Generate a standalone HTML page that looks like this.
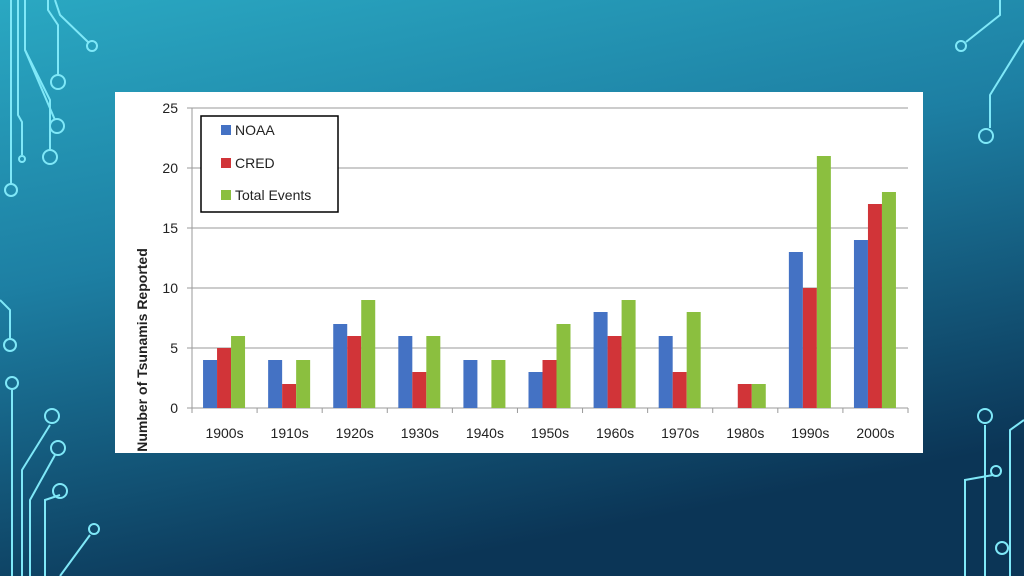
<!DOCTYPE html>
<html><head><meta charset="utf-8"><style>
body{margin:0;width:1024px;height:576px;overflow:hidden;font-family:"Liberation Sans",sans-serif}
#bg{position:absolute;left:0;top:0}
</style></head><body>
<svg id="bg" width="1024" height="576">
<defs><linearGradient id="g" x1="0" y1="0" x2="0.35" y2="1">
<stop offset="0" stop-color="#2aa8c2"/><stop offset="0.45" stop-color="#1d7fa3"/><stop offset="1" stop-color="#0b3556"/></linearGradient></defs>
<rect width="1024" height="576" fill="url(#g)"/>
<g stroke="#7fe8f8" stroke-width="2" fill="none">
<path d="M11,0V185"/><circle cx="11" cy="190" r="6"/>
<path d="M18,0V115L22,122V155"/><circle cx="22" cy="159" r="3"/>
<path d="M25,0V50L50,100V150"/><circle cx="50" cy="157" r="7"/>
<path d="M25,50L55,120"/><circle cx="57" cy="126" r="7"/>
<path d="M48,0V10L58,25V75"/><circle cx="58" cy="82" r="7"/>
<path d="M55,0L60,15L88,42"/><circle cx="92" cy="46" r="5"/>
<path d="M0,300L10,310V340"/><circle cx="10" cy="345" r="6"/>
<path d="M12,390V576"/><circle cx="12" cy="383" r="6"/>
<path d="M22,576V470L50,425"/><circle cx="52" cy="416" r="7"/>
<path d="M30,576V500L55,455"/><circle cx="58" cy="448" r="7"/>
<path d="M45,576V500L60,495"/><circle cx="60" cy="491" r="7"/>
<path d="M60,576L90,535"/><circle cx="94" cy="529" r="5"/>
<path d="M1000,0V15L966,42"/><circle cx="961" cy="46" r="5"/>
<path d="M1024,40L990,95V128"/><circle cx="986" cy="136" r="7"/>
<path d="M985,425V576"/><circle cx="985" cy="416" r="7"/>
<path d="M965,576V480L993,475"/><circle cx="996" cy="471" r="5"/>
<path d="M1010,576V430L1024,420"/><circle cx="1002" cy="548" r="6"/>
</g>
</svg>
<svg style="position:absolute;left:115px;top:92px" width="808" height="361">
<rect width="808" height="361" fill="#fff"/>
<g id="grid"></g><g id="bars"></g><g id="axes"></g>
<text transform="translate(32,258) rotate(-90)" text-anchor="middle" font-size="14" font-weight="bold" fill="#222">Number of Tsunamis Reported</text>
<g>
<rect x="86" y="24" width="137" height="96" fill="#fff" stroke="#000" stroke-width="1.5"/>
<rect x="106" y="33" width="10" height="10" fill="#4472c4"/>
<text x="120" y="43" font-size="14" fill="#222">NOAA</text>
<rect x="106" y="66" width="10" height="10" fill="#d13438"/>
<text x="120" y="76" font-size="14" fill="#222">CRED</text>
<rect x="106" y="98" width="10" height="10" fill="#8bbf3f"/>
<text x="120" y="108" font-size="14" fill="#222">Total Events</text>
</g>
</svg>
<script>
const categories=["1900s","1910s","1920s","1930s","1940s","1950s","1960s","1970s","1980s","1990s","2000s"];
const noaa=[4,4,7,6,4,3,8,6,0,13,14];
const cred=[5,2,6,3,0,4,6,3,2,10,17];
const total=[6,4,9,6,4,7,9,8,2,21,18];
const yTicks=[0,5,10,15,20,25];
const NS="http://www.w3.org/2000/svg";
const x0=77,x1=793,yb=316,yt=16,yMax=25;
const cw=(x1-x0)/categories.length;
const y=v=>yb-(v/yMax)*(yb-yt);
const xc=i=>x0+cw*(i+0.5);
function mk(t,a,p){const e=document.createElementNS(NS,t);for(const k in a)e.setAttribute(k,a[k]);p.appendChild(e);return e;}
const grid=document.getElementById('grid'),bars=document.getElementById('bars'),axes=document.getElementById('axes');
yTicks.forEach(v=>{
 const l=mk('line',{x1:x0-5,x2:x1,y1:y(v),y2:y(v),stroke:'#9a9a9a','stroke-width':1},grid);
 
 
 const t=mk('text',{x:x0-14,y:y(v)+5,'text-anchor':'end','font-size':14,fill:'#222'},axes);
 t.textContent=v;
 
 
});
mk('line',{x1:x0,x2:x0,y1:yt,y2:yb,stroke:'#9a9a9a'},axes);
for(let i=0;i<=categories.length;i++){mk('line',{x1:x0+cw*i,x2:x0+cw*i,y1:yb,y2:yb+5,stroke:'#9a9a9a'},axes);}
const series=[[noaa,'#4472c4','noaa'],[cred,'#d13438','cred'],[total,'#8bbf3f','total']];
const bw=14;
categories.forEach((c,i)=>{
 series.forEach(([d,col,n],s)=>{
  const r=mk('rect',{x:xc(i)-21.5+s*bw,y:y(d[i]),width:bw,height:yb-y(d[i]),fill:col},bars);
  
  
 });
 const t=mk('text',{x:xc(i),y:yb+30,'text-anchor':'middle','font-size':14,fill:'#222'},axes);
 t.textContent=c;
 
 
});
</script>
</body></html>
